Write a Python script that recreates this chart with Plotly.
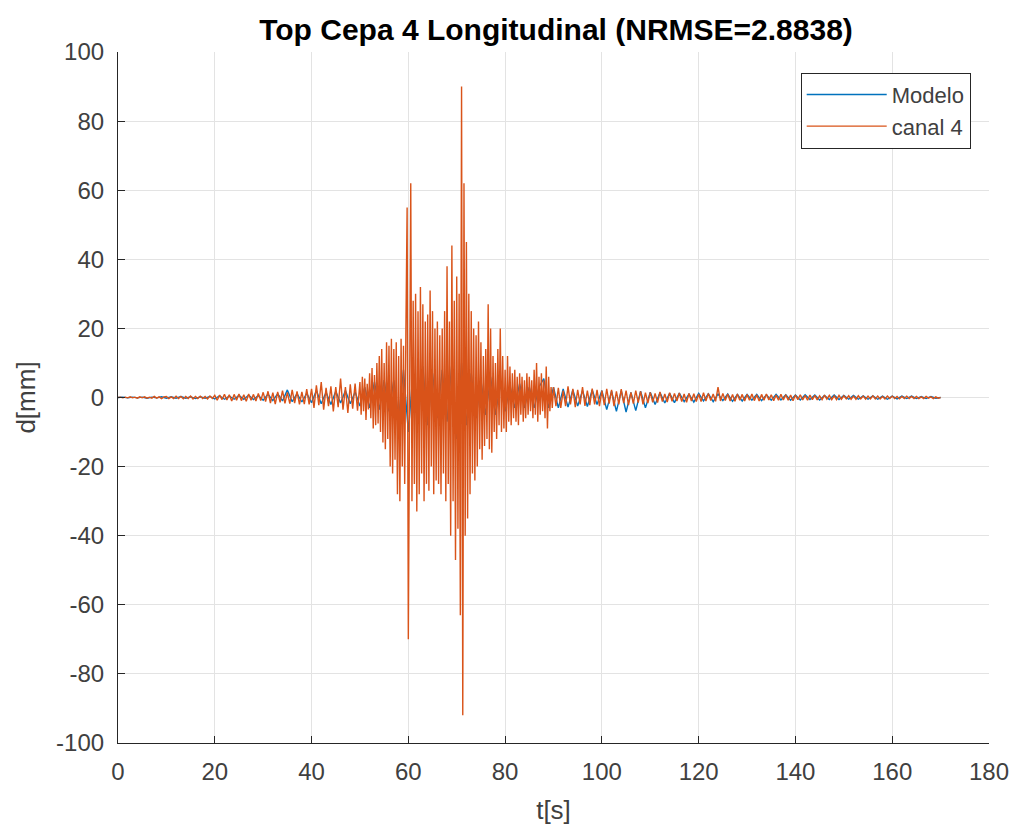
import numpy as np
import plotly.graph_objects as go

# ---------------- data ----------------
# canal 4 : three segments with their own sampling step
canal4_dt_a = 0.5   # 0 .. 49.5 s
canal4_a = [0, 0.1, -0.1, 0.1, -0.1, 0.2, -0.1, 0.1, -0.2, 0.2, -0.1, 0.2, -0.2, 0.1, -0.2, 0.3, -0.2, 0.2, -0.3, 0.2,
            0.3, -0.3, 0.2, -0.3, 0.4, -0.3, 0.3, -0.4, 0.3, -0.3, 0.4, -0.4, 0.3, -0.3, 0.4, -0.3, 0.3, -0.4, 0.4, -0.3,
            0.6, -0.8, 0.7, -0.6, 0.9, -0.7, 0.8, -1.0, 0.9, -0.8, 1.0, -0.9, 0.8, -1.1, 1.0, -0.8, 0.9, -1.0, 1.2, -0.9,
            1.5, -1.2, 1.8, -1.6, 1.4, -1.9, 1.6, -1.4, 2.0, -1.7, 1.5, -1.8, 2.2, -1.6, 1.8, -2.0, 1.6, -1.9, 2.4, -2.0,
            2.5, -3.0, 3.5, -2.2, 4.5, -3.5, 2.8, -2.5, 3.2, -4.0, 3.0, -2.8, 5.5, -3.5, 3.0, -4.5, 3.8, -3.2, 4.0, -3.8]

canal4_dt_b = 0.25  # 50 .. 89.75 s
canal4_b = [4.5, -5.0, 6.0, -4.0, 5.5, -6.5, 4.0, -3.5,
            7.0, -6.0, 8.5, -9.0, 6.5, -8.0, 10.0, -7.5,
            12.0, -10.0, 14.0, -13.0, 10.0, -15.0, 16.0, -12.0,
            15.0, -20.0, 17.0, -22.0, 14.0, -18.0, 16.0, -28.0,
            12.0, -30.0, 17.0, -20.0, 15.0, -25.0, 20.0, 55.0,
            -70.0, 25.0, 62.0, -30.0, 28.0, -25.0, 30.0, -33.0,
            25.0, -28.0, 32.0, -22.0, 27.0, -30.0, 22.0, -25.0,
            24.0, -27.0, 31.0, -20.0, 25.0, -28.0, 20.0, -24.0,
            22.0, -25.0, 18.0, -28.0, 20.0, -22.0, 25.0, -30.0,
            38.0, -25.0, 22.0, -40.0, 44.0, -30.0, 28.0, -47.0,
            35.0, -38.0, 30.0, -63.0, 90.0, -92.0, 62.0, -40.0,
            45.0, -35.0, 30.0, -28.0, 25.0, -22.0, 20.0, -24.0,
            18.0, -20.0, 22.0, -15.0, 16.0, -18.0, 12.0, -14.0,
            14.0, -12.0, 27.0, -15.0, 20.0, -16.0, 12.0, -10.0,
            10.0, -12.0, 14.0, -8.0, 20.0, -10.0, 12.0, -9.0,
            8.0, -10.0, 12.0, -7.0, 9.0, -8.0, 7.0, -6.0,
            8.0, -7.0, 6.0, -8.0, 7.0, -5.0, 6.0, -7.0,
            5.0, -6.0, 7.0, -5.0, 6.0, -4.0, 5.0, -6.0,
            8.0, -5.0, 10.0, -7.0, 6.0, -5.0, 7.0, -4.0,
            5.0, -6.0, 9.0, -9.0, 6.0, -4.0, 3.0, -3.0]

canal4_dt_c = 0.5   # 90 .. 170 s
canal4_c = [3.0, -2.5, 2.8, -3.0, 2.0, -2.5, 3.2, -2.0, 2.5, -2.8, 2.2, -2.0, 3.0, -2.4, 2.0, -2.2, 2.6, -2.0, 2.2, -2.5,
            2.0, -2.2, 2.5, -1.8, 2.2, -2.5, 1.8, -2.0, 2.4, -1.6, 2.0, -2.2, 1.5, -1.8, 2.0, -1.5, 1.8, -2.0, 1.4, -1.6,
            1.5, -1.4, 1.2, -1.5, 1.6, -1.2, 1.0, -1.3, 1.4, -1.1, 1.2, -1.0, 1.3, -1.2, 1.0, -1.4, 1.2, -1.0, 1.1, -1.2,
            1.0, -1.2, 1.4, -1.0, 1.2, -0.9, 1.0, -1.1, 3.0, -1.0, 1.2, -0.9, 1.0, -1.0, 0.9, -1.1, 1.0, -0.8, 0.9, -1.0,
            0.9, -0.8, 1.0, -0.9, 0.8, -1.0, 0.9, -0.8, 1.0, -0.7, 0.8, -0.9, 0.7, -0.8, 0.9, -0.7, 0.8, -0.8, 0.7, -0.9,
            0.7, -0.6, 0.8, -0.7, 0.6, -0.8, 0.7, -0.6, 0.6, -0.7, 0.5, -0.6, 0.7, -0.5, 0.6, -0.6, 0.5, -0.6, 0.6, -0.5,
            0.5, -0.4, 0.5, -0.5, 0.4, -0.5, 0.5, -0.4, 0.4, -0.5, 0.4, -0.4, 0.5, -0.4, 0.4, -0.4, 0.3, -0.4, 0.4, -0.3,
            0.4, -0.3, 0.3, -0.4, 0.3, -0.3, 0.4, -0.3, 0.3, -0.3, 0.3, -0.3, 0.2, -0.3, 0.3, -0.2, 0.2, -0.3, 0.2, -0.2, 0.0]

# Modelo : one sample per second, 0 .. 170 s
modelo_dt = 1.0
modelo = [0, 0.1, -0.1, 0.1, -0.1, 0.1, -0.2, 0.1, -0.1, 0.2,
          -0.2, 0.2, -0.2, 0.3, -0.2, 0.2, -0.3, 0.2, -0.2, 0.3,
          -0.4, 0.5, -0.5, 0.4, -0.5, 0.6, -0.5, 0.7, -0.6, 0.6,
          -0.8, 1.0, -0.9, 1.1, -1.0, 2.2, -1.2, 1.1, -1.3, 1.2,
          -1.5, 2.0, -1.8, 1.5, -2.0, 1.8, -1.6, 2.0, -1.8, 1.6,
          -2.5, 3.0, -3.0, 4.5, -3.5, 5.0, -4.0, 5.0, -6.0, 8.0,
          -10.0, 8.0, -7.0, 9.0, -8.0, 7.0, -6.0, 8.0, -7.0, 10.0,
          -12.0, 10.0, -8.0, 7.0, -6.0, 5.0, -5.0, 6.0, -5.0, 4.0,
          -4.0, 3.5, -3.0, 4.0, -3.0, 3.0, -3.0, 3.0, 5.5, -3.0,
          3.0, -3.0, 2.5, -2.8, 2.2, -2.5, 2.0, -2.6, 2.2, -2.0,
          2.0, -3.5, 1.8, -4.0, 2.0, -4.2, 1.5, -3.8, 1.8, -3.0,
          1.5, -2.0, 1.4, -1.6, 1.2, -1.5, 1.3, -1.2, 1.0, -1.3,
          1.2, -1.0, 1.1, -1.2, 1.0, -0.9, 1.0, -1.1, 0.9, -1.0,
          0.9, -0.8, 0.9, -0.9, 0.8, -0.8, 0.9, -0.7, 0.8, -0.8,
          0.7, -0.7, 0.8, -0.6, 0.7, -0.7, 0.6, -0.6, 0.7, -0.6,
          0.6, -0.5, 0.6, -0.5, 0.5, -0.5, 0.5, -0.5, 0.4, -0.5,
          0.4, -0.4, 0.4, -0.3, 0.4, -0.3, 0.3, -0.3, 0.3, -0.2, 0.0]

x_ticks = [0, 20, 40, 60, 80, 100, 120, 140, 160, 180]
y_ticks = [-100, -80, -60, -40, -20, 0, 20, 40, 60, 80, 100]
x_ticktext = [str(v) for v in x_ticks]
y_ticktext = [str(v) for v in y_ticks]   # plain hyphen minus, as in the picture

title_text = "Top Cepa 4 Longitudinal (NRMSE=2.8838)"
x_label = "t[s]"
y_label = "d[mm]"
legend_names = ["Modelo", "canal 4"]

# ---------------- build time axes ----------------
t_a = 0.0 + canal4_dt_a * np.arange(len(canal4_a))
t_b = 50.0 + canal4_dt_b * np.arange(len(canal4_b))
t_c = 90.0 + canal4_dt_c * np.arange(len(canal4_c))
t_canal = np.concatenate([t_a, t_b, t_c])
y_canal = np.concatenate([canal4_a, canal4_b, canal4_c])
t_modelo = modelo_dt * np.arange(len(modelo))

BLUE = "#0072BD"
ORANGE = "#D95319"
AX = "#262626"
TXT = "#404040"
FONT = "Liberation Sans, Arial, Helvetica, sans-serif"

fig = go.Figure()
fig.add_trace(go.Scatter(x=t_modelo, y=modelo, mode="lines", name=legend_names[0],
                         line=dict(color=BLUE, width=1.4)))
fig.add_trace(go.Scatter(x=t_canal, y=y_canal, mode="lines", name=legend_names[1],
                         line=dict(color=ORANGE, width=1.4)))

axis_common = dict(showline=True, linecolor=AX, linewidth=1.2, mirror=False,
                   ticks="inside", tickcolor=AX, ticklen=7, tickwidth=1,
                   showgrid=True, gridcolor="#e3e3e3", gridwidth=1, zeroline=False,
                   tickfont=dict(family=FONT, size=24, color=TXT))

fig.update_layout(
    width=1021, height=831,
    margin=dict(l=118, r=27, t=52, b=88),
    paper_bgcolor="white", plot_bgcolor="white",
    title=dict(text="<b>" + title_text + "</b>", x=(118 + 994) / 2 / 1021, xanchor="center",
               y=1 - 29 / 831, yanchor="middle",
               font=dict(family=FONT, size=30, color="black")),
    xaxis=dict(range=[0, 180], tickvals=x_ticks, ticktext=x_ticktext, ticklabelstandoff=7,
               title=dict(text=x_label, font=dict(family=FONT, size=26, color=TXT), standoff=16),
               **axis_common),
    yaxis=dict(range=[-100, 100], tickvals=y_ticks, ticktext=y_ticktext, ticklabelstandoff=8,
               title=dict(text=y_label, font=dict(family=FONT, size=26, color=TXT), standoff=12),
               **axis_common),
    legend=dict(x=0.979, y=0.970, xanchor="right", yanchor="top",
                bgcolor="white", bordercolor=AX, borderwidth=1,
                font=dict(family=FONT, size=22, color=TXT),
                itemwidth=80, tracegroupgap=0),
    showlegend=True,
)

fig.write_html("out.html")
